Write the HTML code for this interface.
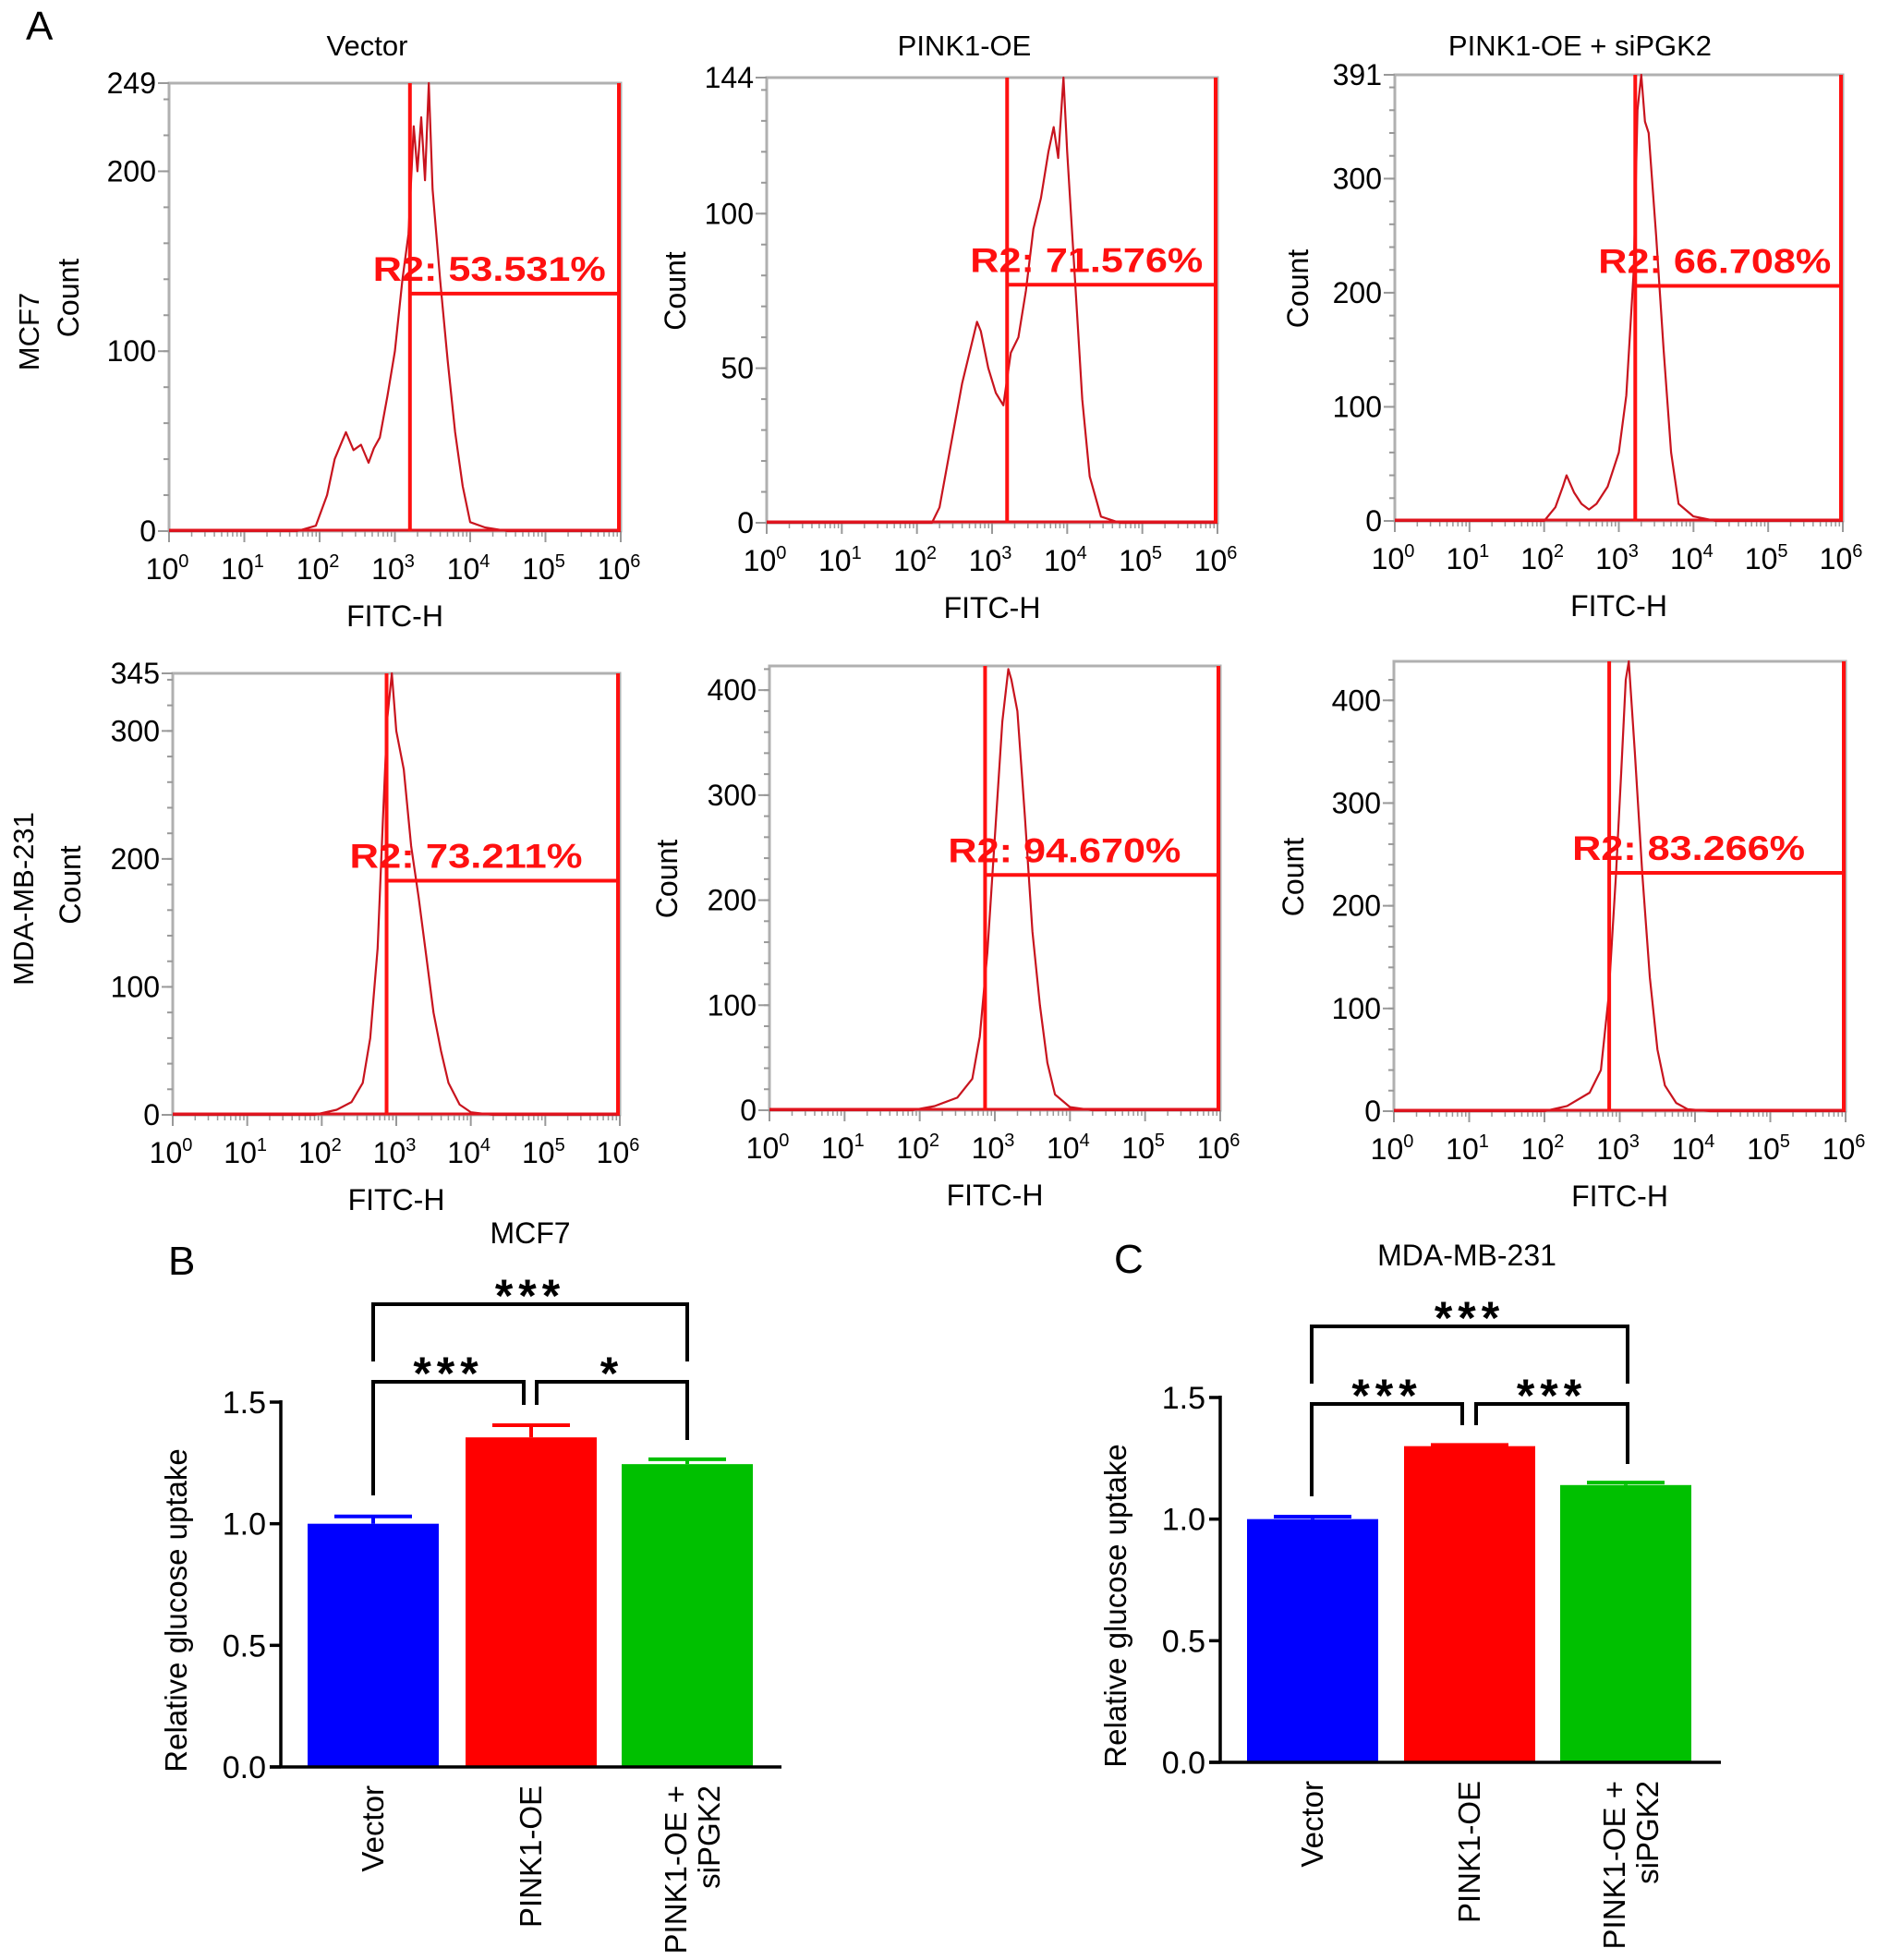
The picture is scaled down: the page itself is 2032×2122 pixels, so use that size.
<!DOCTYPE html>
<html><head><meta charset="utf-8"><style>
html,body{margin:0;padding:0;background:#fff;}
svg{display:block;font-family:"Liberation Sans",Arial,sans-serif;}
</style></head><body>
<svg id="fig" width="2032" height="2122" viewBox="0 0 2032 2122" xmlns="http://www.w3.org/2000/svg">
<text x="28" y="43" font-size="44">A</text>
<text x="182" y="1380" font-size="44">B</text>
<text x="1206" y="1378" font-size="44">C</text>
<text transform="translate(42,359) rotate(-90)" text-anchor="middle" font-size="31">MCF7</text>
<text transform="translate(36,973) rotate(-90)" text-anchor="middle" font-size="31">MDA-MB-231</text>
</svg>
<script>
// ---- flow cytometry histogram data ----
const panelTitles = ["Vector","PINK1-OE","PINK1-OE + siPGK2"];
const yMax = [249,144,391,345,423,438];
const yTicks = [[0,100,200,249],[0,50,100,144],[0,100,200,300,391],[0,100,200,300,345],[0,100,200,300,400],[0,100,200,300,400]];
const xTickExp = [0,1,2,3,4,5,6];
const gatePct = ["53.531","71.576","66.708","73.211","94.670","83.266"];
const gateLog = [3.2,3.2,3.22,2.87,2.87,2.86];
const gateLevel = [132,77,206,183,224,232];
const histLogP1 = [0,1.7,1.95,2.1,2.2,2.3,2.35,2.45,2.55,2.65,2.72,2.8,2.9,3.0,3.1,3.18,3.25,3.3,3.35,3.4,3.45,3.5,3.6,3.7,3.8,3.9,4.0,4.2,4.5,6];
const histCntP1 = [0,0,3,20,40,50,55,45,48,38,46,52,75,100,140,165,225,200,230,195,249,190,140,95,55,25,5,2,0,0];
const histLogP2 = [0,2.2,2.3,2.45,2.6,2.7,2.8,2.85,2.95,3.05,3.15,3.25,3.35,3.45,3.55,3.65,3.75,3.82,3.88,3.95,4.0,4.1,4.2,4.3,4.45,4.7,6];
const histCntP2 = [0,0,5,25,45,55,65,62,50,42,38,55,60,75,95,105,120,128,118,144,120,80,40,15,2,0,0];
const histLogP3 = [0,2.0,2.15,2.25,2.3,2.4,2.5,2.6,2.7,2.85,3.0,3.1,3.2,3.25,3.3,3.35,3.4,3.5,3.6,3.7,3.8,4.0,4.3,6];
const histCntP3 = [0,0,12,30,40,25,15,10,15,30,60,110,220,360,391,350,340,250,150,60,15,4,0,0];
const histLogP4 = [0,1.9,2.2,2.4,2.55,2.65,2.75,2.82,2.88,2.94,3.0,3.1,3.2,3.3,3.4,3.5,3.6,3.7,3.85,4.0,4.3,6];
const histCntP4 = [0,0,4,10,25,60,130,230,310,345,300,270,210,170,125,80,50,25,8,2,0,0];
const histLogP5 = [0,1.9,2.2,2.5,2.7,2.8,2.9,3.0,3.1,3.18,3.22,3.3,3.4,3.5,3.6,3.7,3.8,4.0,4.3,6];
const histCntP5 = [0,0,4,12,30,70,150,260,370,420,410,380,280,170,100,45,15,3,0,0];
const histLogP6 = [0,2.0,2.3,2.6,2.75,2.85,2.95,3.02,3.08,3.12,3.2,3.3,3.4,3.5,3.6,3.75,3.9,4.2,6];
const histCntP6 = [0,0,5,18,40,110,230,330,420,438,350,230,130,60,25,8,2,0,0];
const histLog = [histLogP1,histLogP2,histLogP3,histLogP4,histLogP5,histLogP6];
const histCnt = [histCntP1,histCntP2,histCntP3,histCntP4,histCntP5,histCntP6];

// ---- bar chart data ----
const barCategories = ["Vector","PINK1-OE","PINK1-OE +|siPGK2"];
const barColors = ["#0000ff","#ff0000","#00c000"];
const mcf7Values = [1.0,1.355,1.245];
const mcf7Errors = [0.03,0.05,0.02];
const mdaValues = [1.0,1.3,1.14];
const mdaErrors = [0.01,0.005,0.01];
const barYTicks = [0,0.5,1.0,1.5];
const barYTickLabels = ["0.0","0.5","1.0","1.5"];
const mcf7Stars = ["***","***","*"];
const mdaStars = ["***","***","***"];

const NS = "http://www.w3.org/2000/svg";
const svg = document.getElementById("fig");
function mk(tag, attrs, parent, text){
  const e = document.createElementNS(NS, tag);
  for (const k in attrs) e.setAttribute(k, attrs[k]);
  if (text !== undefined) e.textContent = text;
  (parent||svg).appendChild(e);
  return e;
}

const boxes = [[183,90,672,575],[830,84,1318,566],[1510,81,1995,564],[187,729,671,1207],[833,721,1321,1202],[1509,716,1998,1203]];
const countOffsets = [-98,-88,-94,-100,-100,-98];

for (let p = 0; p < 6; p++) {
  const [L,T,R,B] = boxes[p];
  const g = mk("g", {});
  
  
  const xs = v => L + (v/6)*(R-L);
  const ys = c => B - (c/yMax[p])*(B-T);
  const fr = mk("rect", {x:L,y:T,width:R-L,height:B-T,fill:"none",stroke:"#b0b0b0","stroke-width":3}, g);
  
  
  for (let c = 0; c <= yMax[p]; c += (yMax[p]>200?20:10)) {
    mk("line",{x1:L-6,x2:L,y1:ys(c),y2:ys(c),stroke:"#999","stroke-width":2},g);
  }
  yTicks[p].forEach(t => {
    mk("line",{x1:L-12,x2:L,y1:ys(t),y2:ys(t),stroke:"#999","stroke-width":2},g);
    const tx = mk("text",{x:L-14,y:ys(t)+11,"text-anchor":"end","font-size":32},g,String(t));
    
    
  });
  xTickExp.forEach(e => {
    mk("line",{x1:xs(e),x2:xs(e),y1:B,y2:B+12,stroke:"#999","stroke-width":2},g);
    if (e < 6) for (let m = 2; m <= 9; m++) {
      const xv = xs(e + Math.log10(m));
      mk("line",{x1:xv,x2:xv,y1:B,y2:B+6,stroke:"#999","stroke-width":1.5},g);
    }
    const tx = mk("text",{x:xs(e)-2,y:B+52,"text-anchor":"middle","font-size":32},g);
    
    
    mk("tspan",{},tx,"10");
    mk("tspan",{dy:-13,"font-size":20},tx,String(e));
  });
  let d = "";
  histLog[p].forEach((v,i) => { d += (i? "L":"M") + xs(v).toFixed(1) + "," + ys(histCnt[p][i]).toFixed(1); });
  const hl = mk("path",{d:d,fill:"none",stroke:"#c8141e","stroke-width":2.2,"stroke-linejoin":"round"},g);
  
  
  mk("line",{x1:L,x2:R,y1:B-1,y2:B-1,stroke:"#e0141e","stroke-width":3},g);
  const gx = xs(gateLog[p]), gy = ys(gateLevel[p]);
  const gate = mk("path",{d:`M${gx},${T}L${gx},${B}M${gx},${gy}L${R-2},${gy}M${R-2},${T}L${R-2},${B}`,fill:"none",stroke:"#ff1010","stroke-width":4},g);
  
  
  const rt = mk("text",{x:gx-40,y:gy-14,"font-size":37,"font-weight":"bold",fill:"#ff1010",textLength:252,lengthAdjust:"spacingAndGlyphs"},g,"R2: " + gatePct[p] + "%");
  
  
  const xl = mk("text",{x:(L+R)/2,y:B+103,"text-anchor":"middle","font-size":32},g,"FITC-H");
  
  
  const cx = L + countOffsets[p], cy = (T+B)/2 - 10;
  const yl = mk("text",{transform:`translate(${cx},${cy}) rotate(-90)`,"text-anchor":"middle","font-size":32},g,"Count");
  
  
  if (p < 3) {
    const tt = mk("text",{x:(L+R)/2 - 30 + (p==2?-12:0),y:60,"text-anchor":"middle","font-size":31},g,panelTitles[p]);
    
    
  }
}

function barChart(cfg) {
  const g = mk("g", {});
  
  
  const ys = v => cfg.y0 - (v/1.5)*(cfg.y0 - cfg.y15);
  const tt = mk("text",{x:cfg.titleX,y:cfg.titleY,"text-anchor":"middle","font-size":32},g,cfg.title);
  
  
  cfg.values.forEach((v,i) => {
    const bx = cfg.barX[i], w = cfg.barW;
    const r = mk("rect",{x:bx,y:ys(v),width:w,height:cfg.y0-ys(v),fill:barColors[i]},g);
    
    
    const cxm = bx + w/2, top = ys(v + cfg.errors[i]);
    const eb = mk("path",{d:`M${cxm},${ys(v)}L${cxm},${top}M${cxm-42},${top}L${cxm+42},${top}`,stroke:barColors[i],"stroke-width":4,fill:"none"},g);
    
    
    const parts = barCategories[i].split("|");
    const lines = parts.length;
    parts.forEach((s,k) => {
      const lx = cxm + 11 + (k - (lines-1)/2) * 36 + (lines>1?6:0);
      const cl = mk("text",{transform:`translate(${lx},${cfg.y0+20}) rotate(-90)`,"text-anchor":"end","font-size":33},g,s);
      
      
    });
  });
  mk("line",{x1:cfg.axisX,x2:cfg.axisX,y1:ys(1.5)-2,y2:cfg.y0,stroke:"#000","stroke-width":3.5},g);
  mk("line",{x1:cfg.axisX-12,x2:cfg.axisEnd,y1:cfg.y0,y2:cfg.y0,stroke:"#000","stroke-width":3.5},g);
  barYTicks.forEach((t,i) => {
    mk("line",{x1:cfg.axisX-12,x2:cfg.axisX,y1:ys(t),y2:ys(t),stroke:"#000","stroke-width":3.5},g);
    const tl = mk("text",{x:cfg.axisX-16,y:ys(t)+12,"text-anchor":"end","font-size":34},g,barYTickLabels[i]);
    
    
  });
  const yl = mk("text",{transform:`translate(${cfg.axisX-102},${(cfg.y0+ys(1.5))/2 + 28}) rotate(-90)`,"text-anchor":"middle","font-size":33},g,"Relative glucose uptake");
  
  
  const bk = cfg.br;
  const br = mk("path",{d:
    `M${bk.x1},${bk.topLeg}L${bk.x1},${bk.topY}L${bk.x4},${bk.topY}L${bk.x4},${bk.topLeg}` +
    `M${bk.x1},${bk.leftLeg}L${bk.x1},${bk.lowY}L${bk.x2},${bk.lowY}L${bk.x2},${bk.midLeg}` +
    `M${bk.x3},${bk.midLeg}L${bk.x3},${bk.lowY}L${bk.x4},${bk.lowY}L${bk.x4},${bk.rightLeg}`,
    stroke:"#000","stroke-width":4,fill:"none"},g);
  
  
  const sp = [[(bk.x1+bk.x4)/2, bk.topY-10],[(bk.x1+bk.x2)/2, bk.lowY-10],[(bk.x3+bk.x4)/2, bk.lowY-10]];
  cfg.stars.forEach((s,i) => {
    const st = mk("text",{x:sp[i][0],y:sp[i][1]+18,"text-anchor":"middle","font-size":50,"font-weight":"bold","letter-spacing":"6"},g,s);
    
    
  });
}

barChart({name:"bar-chart-mcf7", title:"MCF7", titleX:574, titleY:1346, values:mcf7Values, errors:mcf7Errors, stars:mcf7Stars,
  y0:1913, y15:1518, axisX:304, axisEnd:846, barX:[333,504,673], barW:142,
  br:{x1:404,x2:567,x3:581,x4:744,topY:1412,topLeg:1474,lowY:1496,midLeg:1521,rightLeg:1559,leftLeg:1619}});
barChart({name:"bar-chart-mda-mb-231", title:"MDA-MB-231", titleX:1588, titleY:1370, values:mdaValues, errors:mdaErrors, stars:mdaStars,
  y0:1908, y15:1513, axisX:1321, axisEnd:1863, barX:[1350,1520,1689], barW:142,
  br:{x1:1420,x2:1583,x3:1598,x4:1762,topY:1436,topLeg:1498,lowY:1520,midLeg:1543,rightLeg:1585,leftLeg:1620}});
</script>
</body></html>
